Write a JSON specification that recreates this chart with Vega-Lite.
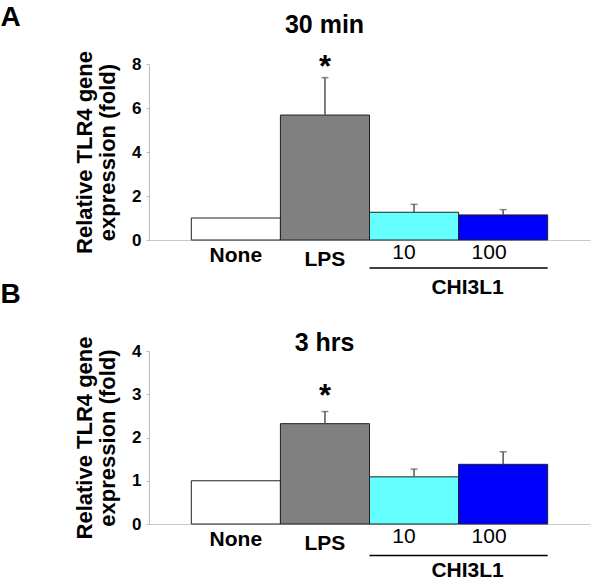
{
  "$schema": "https://vega.github.io/schema/vega-lite/v6.json",
  "padding": {"left": 0, "top": 3, "right": 5, "bottom": 0},
  "background": "white",
  "config": {
    "view": {"stroke": null},
    "font": "Liberation Sans",
    "concat": {"spacing": -17},
    "axisY": {
      "labelFontSize": 17, "labelFontWeight": "bold", "labelColor": "black",
      "tickSize": 3, "tickColor": "#bdbdbd", "domainColor": "#bdbdbd",
      "labelPadding": 5, "titleFontSize": 22, "titleFontWeight": "bold",
      "titleColor": "black", "titleLineHeight": 23, "titlePadding": 12, "grid": false
    },
    "axisX": {
      "domainColor": "#c8c8c8", "ticks": false, "grid": false, "labelAngle": 0,
      "labelColor": "black", "labelFontSize": 21, "labelBaseline": "top", "title": null
    }
  },
  "vconcat": [
    {
      "title": {"text": "A", "anchor": "start", "frame": "bounds", "fontSize": 28, "fontWeight": "bold", "color": "black", "offset": -19, "dx": -73},
      "vconcat": [
        {
          "width": 441, "height": 176,
          "title": {"text": "30 min", "fontSize": 25, "fontWeight": "bold", "color": "black", "dx": -45, "offset": 13},
          "data": {"values": [
            {"cond": "None", "v": 1.0, "hi": null, "star": ""},
            {"cond": "LPS", "v": 5.68, "hi": 7.38, "star": "*"},
            {"cond": "10", "v": 1.26, "hi": 1.62, "star": ""},
            {"cond": "100", "v": 1.14, "hi": 1.38, "star": ""}
          ]},
          "encoding": {
            "x": {"field": "cond", "type": "nominal", "sort": null,
              "scale": {"domain": ["None", "LPS", "10", "100"], "paddingInner": 0, "paddingOuter": 0.475},
              "axis": {
                "labelFontWeight": {"condition": {"test": "datum.value == '10' || datum.value == '100'", "value": "normal"}, "value": "bold"},
                "labelPadding": {"condition": [{"test": "datum.value == 'LPS'", "value": 8}, {"test": "datum.value == '10' || datum.value == '100'", "value": 1}], "value": 4},
                "labelOffset": {"condition": [{"test": "datum.value == '10'", "value": -10}, {"test": "datum.value == '100'", "value": -14}], "value": 0}
              }
            }
          },
          "layer": [
            {
              "mark": {"type": "bar", "stroke": "#222", "strokeWidth": 1},
              "encoding": {
                "y": {"field": "v", "type": "quantitative", "scale": {"domain": [0, 8], "nice": false},
                  "title": ["Relative TLR4 gene", "expression (fold)"],
                  "axis": {"values": [0, 1, 2, 3, 4, 5, 6, 7, 8], "labelExpr": "datum.value % 2 == 0 ? datum.label : ''"}},
                "color": {"field": "cond", "type": "nominal", "legend": null,
                  "scale": {"domain": ["None", "LPS", "10", "100"], "range": ["#ffffff", "#808080", "#66ffff", "#0000ff"]}}
              }
            },
            {
              "transform": [{"filter": "datum.hi != null"}],
              "mark": {"type": "rule", "color": "#555", "strokeWidth": 1.5},
              "encoding": {
                "y": {"field": "v", "type": "quantitative", "title": ["Relative TLR4 gene", "expression (fold)"]},
                "y2": {"field": "hi"}
              }
            },
            {
              "transform": [{"filter": "datum.hi != null"}],
              "mark": {"type": "tick", "color": "#555", "size": 7, "thickness": 1.5},
              "encoding": {
                "y": {"field": "hi", "type": "quantitative", "title": ["Relative TLR4 gene", "expression (fold)"]}
              }
            },
            {
              "transform": [{"filter": "datum.hi != null"}],
              "mark": {"type": "text", "fontSize": 31, "fontWeight": "bold", "color": "black", "baseline": "alphabetic", "dy": -1},
              "encoding": {
                "y": {"field": "hi", "type": "quantitative", "title": ["Relative TLR4 gene", "expression (fold)"]},
                "text": {"field": "star"}
              }
            },
            {
              "data": {"values": [{"group": "CHI3L1"}]},
              "mark": {"type": "rule", "color": "black", "strokeWidth": 1.5},
              "encoding": {
                "x": {"datum": "10", "bandPosition": 0},
                "x2": {"datum": "100", "bandPosition": 1},
                "y": {"datum": -1.27, "type": "quantitative"}
              }
            },
            {
              "data": {"values": [{"group": "CHI3L1"}]},
              "mark": {"type": "text", "fontSize": 21, "fontWeight": "bold", "color": "black", "baseline": "middle", "dx": 9},
              "encoding": {
                "x": {"datum": "100", "bandPosition": 0},
                "y": {"datum": -2.16, "type": "quantitative"},
                "text": {"field": "group"}
              }
            }
          ]
        }
      ]
    },
    {
      "title": {"text": "B", "anchor": "start", "frame": "bounds", "fontSize": 28, "fontWeight": "bold", "color": "black", "offset": 22, "dx": -73},
      "vconcat": [
        {
          "width": 441, "height": 173,
          "title": {"text": "3 hrs", "fontSize": 25, "fontWeight": "bold", "color": "black", "dx": -45, "offset": -20},
          "data": {"values": [
            {"cond": "None", "v": 1.0, "hi": null, "star": ""},
            {"cond": "LPS", "v": 2.32, "hi": 2.6, "star": "*"},
            {"cond": "10", "v": 1.09, "hi": 1.27, "star": ""},
            {"cond": "100", "v": 1.38, "hi": 1.67, "star": ""}
          ]},
          "encoding": {
            "x": {"field": "cond", "type": "nominal", "sort": null,
              "scale": {"domain": ["None", "LPS", "10", "100"], "paddingInner": 0, "paddingOuter": 0.475},
              "axis": {
                "labelFontWeight": {"condition": {"test": "datum.value == '10' || datum.value == '100'", "value": "normal"}, "value": "bold"},
                "labelPadding": {"condition": [{"test": "datum.value == 'LPS'", "value": 8}, {"test": "datum.value == '10' || datum.value == '100'", "value": 1}], "value": 4},
                "labelOffset": {"condition": [{"test": "datum.value == '10'", "value": -10}, {"test": "datum.value == '100'", "value": -14}], "value": 0}
              }
            }
          },
          "layer": [
            {
              "mark": {"type": "bar", "stroke": "#222", "strokeWidth": 1},
              "encoding": {
                "y": {"field": "v", "type": "quantitative", "scale": {"domain": [0, 4], "nice": false},
                  "title": ["Relative TLR4 gene", "expression (fold)"],
                  "axis": {"values": [0, 1, 2, 3, 4]}},
                "color": {"field": "cond", "type": "nominal", "legend": null,
                  "scale": {"domain": ["None", "LPS", "10", "100"], "range": ["#ffffff", "#808080", "#66ffff", "#0000ff"]}}
              }
            },
            {
              "transform": [{"filter": "datum.hi != null"}],
              "mark": {"type": "rule", "color": "#555", "strokeWidth": 1.5},
              "encoding": {
                "y": {"field": "v", "type": "quantitative", "title": ["Relative TLR4 gene", "expression (fold)"]},
                "y2": {"field": "hi"}
              }
            },
            {
              "transform": [{"filter": "datum.hi != null"}],
              "mark": {"type": "tick", "color": "#555", "size": 7, "thickness": 1.5},
              "encoding": {
                "y": {"field": "hi", "type": "quantitative", "title": ["Relative TLR4 gene", "expression (fold)"]}
              }
            },
            {
              "transform": [{"filter": "datum.hi != null"}],
              "mark": {"type": "text", "fontSize": 31, "fontWeight": "bold", "color": "black", "baseline": "alphabetic", "dy": -6},
              "encoding": {
                "y": {"field": "hi", "type": "quantitative", "title": ["Relative TLR4 gene", "expression (fold)"]},
                "text": {"field": "star"}
              }
            },
            {
              "data": {"values": [{"group": "CHI3L1"}]},
              "mark": {"type": "rule", "color": "black", "strokeWidth": 1.5},
              "encoding": {
                "x": {"datum": "10", "bandPosition": 0},
                "x2": {"datum": "100", "bandPosition": 1},
                "y": {"datum": -0.73, "type": "quantitative"}
              }
            },
            {
              "data": {"values": [{"group": "CHI3L1"}]},
              "mark": {"type": "text", "fontSize": 21, "fontWeight": "bold", "color": "black", "baseline": "middle", "dx": 9},
              "encoding": {
                "x": {"datum": "100", "bandPosition": 0},
                "y": {"datum": -1.08, "type": "quantitative"},
                "text": {"field": "group"}
              }
            }
          ]
        }
      ]
    }
  ]
}
